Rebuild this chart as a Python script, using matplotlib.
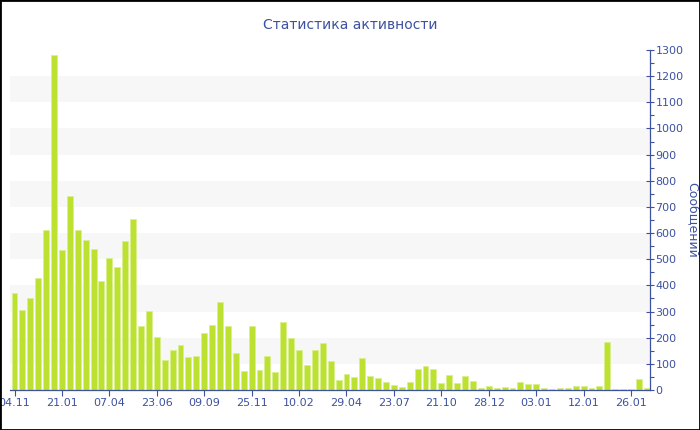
import matplotlib.pyplot as plt
from matplotlib.patches import Rectangle
from matplotlib.ticker import MultipleLocator

title = "Статистика активности"
ylabel = "Сообщений"
tick_labels = ["04.11", "21.01", "07.04", "23.06", "09.09", "25.11", "10.02",
               "29.04", "23.07", "21.10", "28.12", "03.01", "12.01", "26.01"]
values = [370, 306, 351, 430, 613, 1280, 536, 743, 610, 572,
          540, 415, 503, 472, 571, 655, 246, 301, 202, 115,
          153, 172, 126, 129, 219, 249, 336, 245, 142, 74,
          245, 75, 130, 70, 259, 200, 153, 94, 153, 178,
          110, 39, 61, 51, 121, 54, 46, 30, 18, 11,
          32, 79, 92, 80, 26, 57, 26, 54, 36, 9,
          15, 6, 11, 9, 29, 23, 23, 8, 5, 8,
          6, 15, 14, 8, 17, 184, 5, 5, 4, 42, 7]

blue = "#3d51a0"
bar_col = "#bde130"

fig = plt.figure(figsize=(7, 4.3), dpi=100)
ax = fig.add_axes([10 / 700, 40 / 430, 640 / 700, 340 / 430])

x = list(range(len(values)))
for lo in range(100, 1300, 200):
    ax.axhspan(lo, lo + 100, color="#f7f7f7", zorder=0, lw=0)
ax.bar(x, values, width=0.75, color=bar_col, edgecolor="#d9ef8f", linewidth=0.6, zorder=2)

ax.set_xlim(-0.57, 80.4)
ax.set_ylim(0, 1300)
ax.set_xticks(x[::6])
ax.set_xticklabels(tick_labels)

ax.yaxis.tick_right()
ax.yaxis.set_label_position("right")
ax.yaxis.set_major_locator(MultipleLocator(100))
ax.yaxis.set_minor_locator(MultipleLocator(50))
ax.set_ylabel(ylabel, color=blue, fontsize=9, rotation=270, labelpad=11)

for s in ["top", "left"]:
    ax.spines[s].set_visible(False)
for s in ["bottom", "right"]:
    ax.spines[s].set_color(blue)
    ax.spines[s].set_linewidth(0.9)

ax.tick_params(axis="x", colors=blue, labelsize=8, length=4, width=0.8, pad=2)
ax.tick_params(axis="y", which="major", colors=blue, labelsize=8, length=6,
               direction="inout", width=0.8, pad=1)
ax.tick_params(axis="y", which="minor", colors=blue, length=3, direction="out", width=0.8)

fig.text(0.5, 1 - 25 / 430, title, ha="center", va="center", color=blue, fontsize=10)
fig.patches.append(Rectangle((0, 0), 1, 1, transform=fig.transFigure, fill=False,
                             edgecolor="black", linewidth=2))

fig.savefig("out.png", dpi=100)
